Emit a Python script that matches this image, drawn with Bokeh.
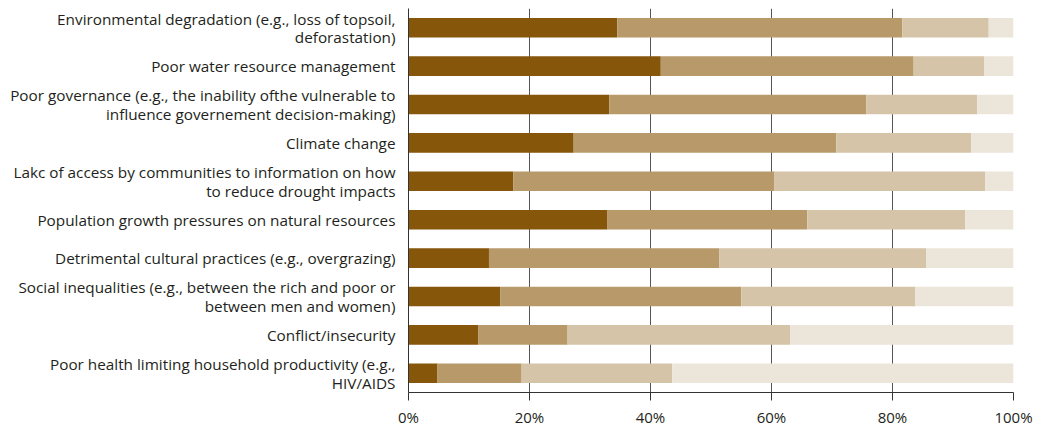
from bokeh.plotting import figure
from bokeh.models import FactorRange, PrintfTickFormatter, FixedTicker, ColumnDataSource
from bokeh.embed import file_html
from bokeh.resources import INLINE

categories = [
    "Environmental degradation (e.g., loss of topsoil,\ndeforastation)",
    "Poor water resource management",
    "Poor governance (e.g., the inability ofthe vulnerable to\ninfluence governement decision-making)",
    "Climate change",
    "Lakc of access by communities to information on how\nto reduce drought impacts",
    "Population growth pressures on natural resources",
    "Detrimental cultural practices (e.g., overgrazing)",
    "Social inequalities (e.g., between the rich and poor or\nbetween men and women)",
    "Conflict/insecurity",
    "Poor health limiting household productivity (e.g.,\nHIV/AIDS",
]
s1 = [34.5, 41.7, 33.2, 27.3, 17.3, 32.9, 13.3, 15.2, 11.5, 4.8]
s2 = [47.1, 41.8, 42.5, 43.4, 43.2, 33.0, 38.1, 39.8, 14.8, 13.9]
s3 = [14.3, 11.7, 18.3, 22.3, 34.8, 26.1, 34.2, 28.8, 36.8, 24.9]
s4 = [4.1, 4.8, 6.0, 7.0, 4.7, 8.0, 14.4, 16.2, 36.9, 56.4]
series = ["s1", "s2", "s3", "s4"]
colors = ["#86560b", "#b89a6a", "#d6c4a9", "#ece5da"]
x_ticks = [0, 20, 40, 60, 80, 100]

source = ColumnDataSource(dict(cat=categories, s1=s1, s2=s2, s3=s3, s4=s4))

p = figure(
    y_range=FactorRange(factors=list(reversed(categories)), range_padding=0),
    x_range=(0, 100),
    frame_width=605, frame_height=384,
    min_border_left=408, min_border_right=20, min_border_top=8, min_border_bottom=35,
    output_backend="svg", toolbar_location=None,
)
p.hbar_stack(series, y="cat", height=0.51, color=colors, source=source, line_color=None)

font = "Open Sans"
p.xaxis.ticker = FixedTicker(ticks=x_ticks)
p.xaxis.formatter = PrintfTickFormatter(format="%d%%")
p.xaxis.major_label_text_font = font
p.xaxis.major_label_text_font_size = "15px"
p.xaxis.major_label_text_color = "#231f20"
p.xaxis.axis_line_color = "#333333"
p.xaxis.major_tick_line_color = "#333333"
p.xaxis.major_tick_out = 8
p.xaxis.major_tick_in = 0
p.xaxis.minor_tick_line_color = None
p.xaxis.major_label_standoff = 6

p.yaxis.major_label_text_font = font
p.yaxis.major_label_text_font_size = "15.3px"
p.yaxis.major_label_text_color = "#231f20"
p.yaxis.major_label_text_line_height = 0.92
p.yaxis.axis_line_color = "#333333"
p.yaxis.major_tick_line_color = None
p.yaxis.major_tick_out = 0
p.yaxis.major_label_standoff = 13

p.ygrid.grid_line_color = None
p.xgrid.ticker = FixedTicker(ticks=x_ticks)
p.xgrid.grid_line_color = "#555555"
p.xgrid.grid_line_width = 1
p.outline_line_color = None
p.background_fill_color = "white"
p.border_fill_color = "white"

open("out.html", "w").write(file_html(p, INLINE))
